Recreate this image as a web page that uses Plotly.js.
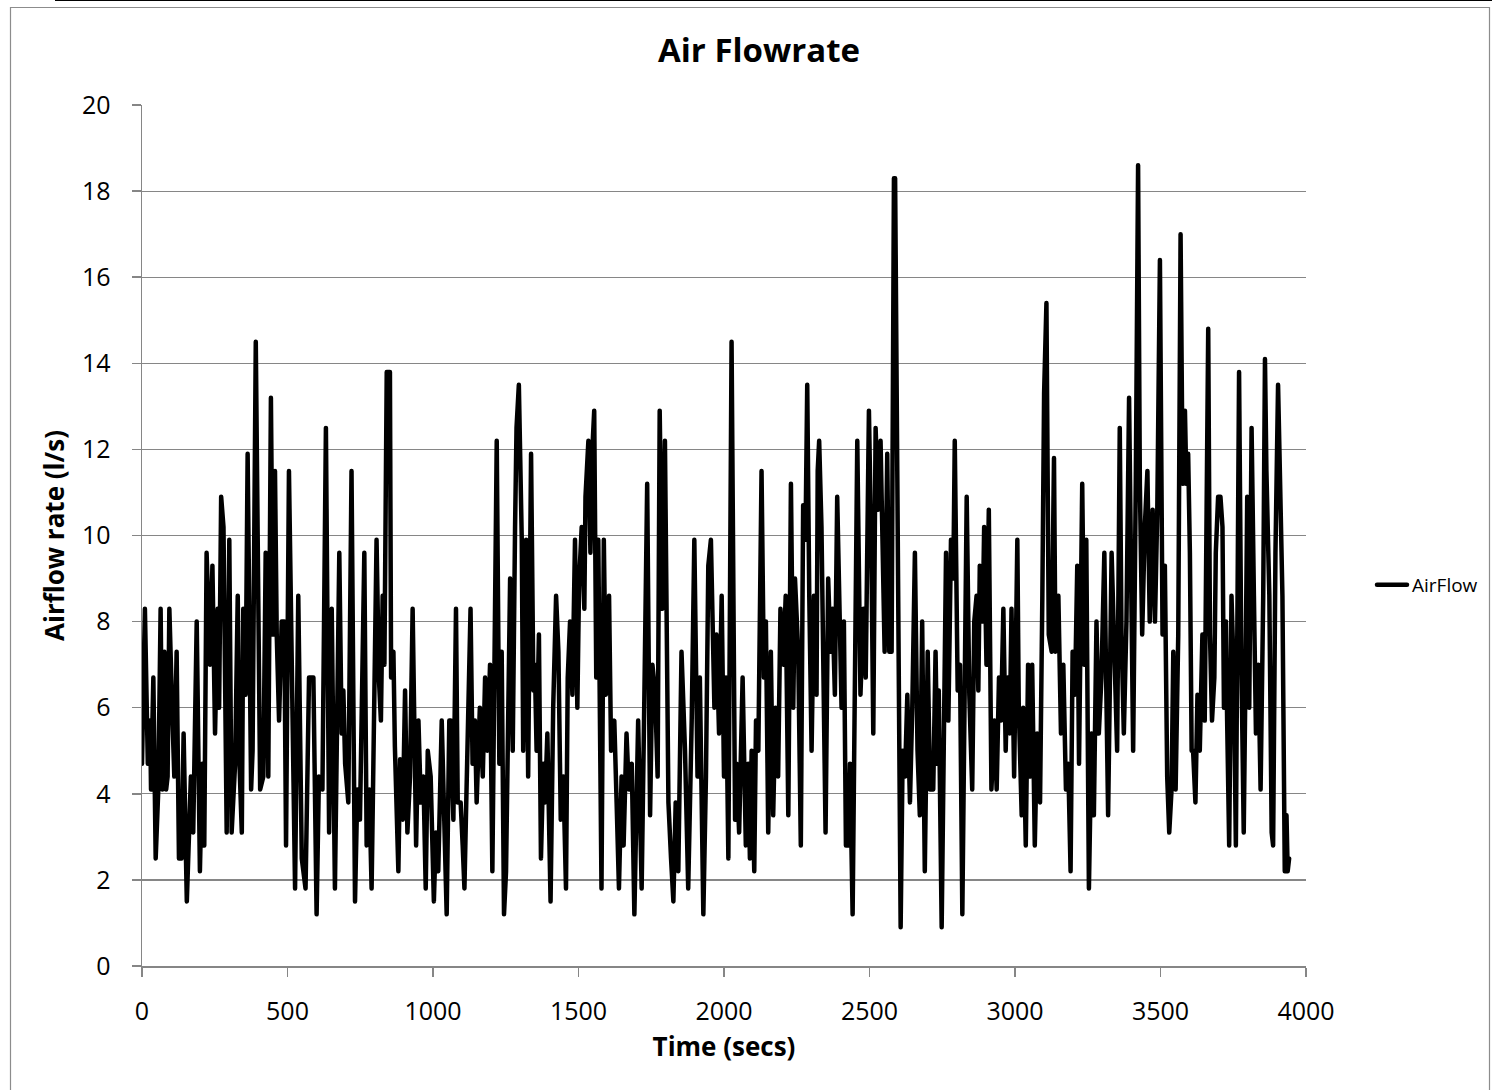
<!DOCTYPE html>
<html>
<head>
<meta charset="utf-8">
<script src="https://cdn.plot.ly/plotly-3.0.1.min.js"></script>
<style>
  html, body { margin: 0; padding: 0; background: #fff; }
  #chart { width: 1492px; height: 1090px; }
  .js-line { stroke-linejoin: round; stroke-linecap: round; }
</style>
</head>
<body>
<div id="chart"></div>
<script>
const chartTitle = "Air Flowrate";
const xTitle = "Time (secs)";
const yTitle = "Airflow rate (l/s)";
const seriesName = "AirFlow";

const timeSecs = [
  0,10,20,28,31,39,47,56,64,70,77,83,88,94,104,111,119,127,136,143,154,162,168,176,188,199,207,214,222,234,242,251,260,265,272,280,291,300,308,320,329,335,343,348,356,363,375,380,391,406,417,425,434,443,450,457,463,471,480,489,495,505,514,526,537,549,562,574,589,600,608,620,632,643,652,
  663,678,686,692,698,709,720,732,740,749,755,764,772,781,789,797,806,814,821,827,833,841,852,856,864,869,881,887,896,904,912,921,930,942,950,958,967,975,982,992,1003,1010,1018,1030,1038,1047,1056,1061,1070,1079,1085,1095,1102,1108,1113,1129,1136,1144,1150,1161,1171,1179,1187,1196,1204,1210,1219,1228,1236,1244,1251,1265,1274,1282,1287,1295,1305,1310,1320,1327,1337,
  1345,1350,1356,1364,1371,1379,1385,1393,1404,1413,1423,1431,1439,1448,1457,1463,1471,1479,1488,1496,1502,1511,1520,1524,1534,1541,1549,1554,1561,1568,1579,1587,1594,1605,1612,1623,1631,1639,1648,1655,1665,1673,1683,1692,1705,1717,1726,1736,1746,1754,1763,1772,1779,1788,1797,1809,1818,1826,1834,1843,1854,1866,1877,1889,1898,1909,1917,1929,1938,1946,1955,1967,1974,1983,1992,
  2000,2007,2015,2026,2038,2043,2052,2064,2075,2083,2089,2095,2104,2110,2118,2129,2137,2144,2152,2161,2169,2177,2186,2194,2204,2212,2221,2230,2238,2244,2255,2264,2272,2280,2286,2293,2301,2309,2318,2322,2327,2335,2341,2349,2358,2366,2373,2381,2389,2398,2404,2412,2419,2427,2433,2442,2450,2458,2469,2479,2487,2498,2507,2513,2521,2530,2538,2545,2552,2561,2568,2576,2584,2588,2607,2614,2622,2630,2639,2647,2656,
  2665,2673,2681,2690,2700,2708,2713,2719,2727,2733,2738,2748,2763,2771,2776,2780,2788,2793,2803,2811,2819,2828,2834,2843,2853,2860,2868,2874,2879,2889,2894,2902,2910,2919,2929,2937,2945,2952,2960,2968,2974,2982,2988,2997,3008,3013,3023,3028,3037,3045,3053,3059,3068,3076,3086,3094,3100,3108,3116,3126,3134,3139,3149,3158,3166,3175,3183,3191,3198,3206,3214,3220,3231,3238,3245,3254,3263,3271,3280,3288,3297,3307,3315,3320,3332,3341,
  3351,3360,3366,3374,3383,3392,3400,3406,3415,3423,3429,3437,3446,3455,3463,3473,3481,3489,3498,3507,3515,3523,3530,3538,3544,3552,3561,3569,3576,3584,3589,3595,3601,3607,3612,3620,3627,3635,3644,3652,3664,3670,3677,3685,3690,3698,3706,3713,3718,3725,3729,3736,3744,3752,3759,3765,3770,3778,3786,3793,3798,3805,3813,3821,3828,3836,3844,3853,3859,3864,3874,3882,3887,3895,3904,3912,3919,3927,3933,3937,3942
];

const airflow = [
  4.7,8.3,4.7,5.7,4.1,6.7,2.5,4.1,8.3,4.1,7.3,4.1,4.4,8.3,5.9,4.4,7.3,2.5,2.5,5.4,1.5,3.5,4.4,3.1,8.0,2.2,4.7,2.8,9.6,7.0,9.3,5.4,8.3,6.0,10.9,10.2,3.1,9.9,3.1,4.7,8.6,4.7,3.1,8.3,6.3,11.9,4.1,5.0,14.5,4.1,4.4,9.6,4.4,13.2,7.7,11.5,7.7,5.7,8.0,8.0,2.8,11.5,7.0,1.8,8.6,2.5,1.8,6.7,6.7,1.2,4.4,4.1,12.5,3.1,8.3,
  1.8,9.6,5.4,6.4,4.7,3.8,11.5,1.5,4.1,3.4,6.0,9.6,2.8,4.1,1.8,6.7,9.9,6.7,5.7,8.6,7.0,13.8,13.8,6.7,7.3,5.1,2.2,4.8,3.4,6.4,3.1,4.4,8.3,2.8,5.7,3.8,4.4,1.8,5.0,4.4,1.5,3.1,2.2,5.7,3.4,1.2,5.7,5.7,3.4,8.3,3.8,3.8,2.8,1.8,3.4,8.3,4.7,5.7,3.8,6.0,4.4,6.7,5.0,7.0,2.2,7.3,12.2,4.7,7.3,1.2,2.2,9.0,5.0,10.2,12.5,13.5,9.9,5.0,9.9,4.4,11.9,
  6.4,7.0,5.0,7.7,2.5,4.7,3.8,5.4,1.5,6.0,8.6,7.3,3.4,4.4,1.8,6.7,8.0,6.3,9.9,6.0,8.9,10.2,8.3,10.9,12.2,9.6,12.2,12.9,6.7,9.9,1.8,9.9,6.3,8.6,5.0,5.7,3.8,1.8,4.4,2.8,5.4,4.1,4.7,1.2,5.7,1.8,6.1,11.2,3.5,7.0,6.4,4.4,12.9,8.3,12.2,3.8,2.5,1.5,3.8,2.2,7.3,5.0,1.8,5.7,9.9,4.4,6.7,1.2,4.4,9.3,9.9,6.0,7.7,5.4,8.6,
  4.4,6.7,2.5,14.5,3.4,4.7,3.1,6.7,2.8,4.7,2.5,5.0,2.2,5.7,5.0,11.5,6.7,8.0,3.1,7.3,3.5,6.0,4.4,8.3,7.0,8.6,3.5,11.2,6.0,9.0,7.3,2.8,10.7,9.9,13.5,8.6,5.0,8.6,6.3,11.5,12.2,10.2,7.7,3.1,9.0,7.3,8.3,6.3,10.9,7.3,6.0,8.0,2.8,2.8,4.7,1.2,7.7,12.2,6.3,8.3,6.7,12.9,9.3,5.4,12.5,10.6,12.2,9.9,7.3,11.9,7.3,7.3,18.3,18.3,0.9,5.0,4.4,6.3,3.8,6.0,9.6,
  5.0,3.5,8.0,2.2,7.3,4.1,4.7,4.1,7.3,4.7,6.4,0.9,9.6,5.7,8.0,9.9,9.0,12.2,6.4,7.0,1.2,7.0,10.9,6.3,4.1,8.0,8.6,6.4,9.3,8.0,10.2,7.0,10.6,4.1,5.7,4.1,6.7,5.7,8.3,5.0,6.7,5.4,8.3,4.4,9.9,6.0,3.5,6.0,2.8,7.0,4.4,7.0,2.8,5.4,3.8,8.6,13.3,15.4,7.7,7.3,11.8,7.3,8.6,5.4,7.0,4.1,4.7,2.2,7.3,6.3,9.3,4.7,11.2,7.0,9.9,1.8,5.4,3.5,8.0,5.4,6.7,9.6,5.9,3.5,9.6,7.3,
  5.0,12.5,7.7,5.4,8.0,13.2,7.7,5.0,11.2,18.6,11.2,7.7,10.2,11.5,8.0,10.6,8.0,10.6,16.4,7.7,9.3,4.4,3.1,4.1,7.3,4.1,7.7,17.0,11.2,12.9,11.2,11.9,9.6,5.0,5.0,3.8,6.3,5.0,7.7,5.7,14.8,7.7,5.7,6.7,9.6,10.9,10.9,10.2,6.0,8.0,5.7,2.8,8.6,6.7,2.8,7.3,13.8,7.0,3.1,7.3,10.9,6.0,12.5,8.6,5.4,7.0,4.1,8.6,14.1,11.5,8.6,3.1,2.8,9.6,13.5,10.9,8.6,2.2,3.5,2.2,2.5
];

const xTickVals = [0, 500, 1000, 1500, 2000, 2500, 3000, 3500, 4000];
const yTickVals = [0, 2, 4, 6, 8, 10, 12, 14, 16, 18, 20];

const FONT = '"Open Sans", "Liberation Sans", sans-serif';
const AXIS_GRAY = '#868686';

const trace = {
  x: timeSecs,
  y: airflow,
  type: 'scatter',
  mode: 'lines',
  name: seriesName,
  line: { color: '#000000', width: 4.5 },
  showlegend: true
};

const W = 1492, H = 1090;
const L = 142, R = 186, T = 105, B = 124;
const pw = W - L - R, ph = H - T - B;
function px2paperX(px) { return (px - L) / pw; }
function px2paperY(py) { return (H - B - py) / ph; }

const layout = {
  width: W,
  height: H,
  margin: { l: L, r: R, t: T, b: B, pad: 0, autoexpand: false },
  paper_bgcolor: '#ffffff',
  plot_bgcolor: '#ffffff',
  font: { family: FONT, color: '#000000', size: 25 },
  title: {
    text: '<b>' + chartTitle + '</b>',
    font: { family: FONT, size: 33, color: '#000000' },
    x: 759 / W, xref: 'container', xanchor: 'center',
    y: 1 - 50 / H, yref: 'container', yanchor: 'middle'
  },
  xaxis: {
    range: [0, 4000],
    tickvals: xTickVals,
    ticktext: xTickVals.map(String),
    showgrid: false,
    zeroline: false,
    showline: true,
    linecolor: AXIS_GRAY,
    linewidth: 1.5,
    ticks: 'outside',
    ticklen: 9,
    tickwidth: 1.5,
    tickcolor: AXIS_GRAY,
    ticklabelstandoff: 13,
    automargin: false,
    tickfont: { family: FONT, size: 25, color: '#000000' },
    title: { text: '<b>' + xTitle + '</b>', font: { family: FONT, size: 26, color: '#000000' }, standoff: 12 }
  },
  yaxis: {
    range: [0, 20],
    tickvals: yTickVals,
    ticktext: yTickVals.map(String),
    showgrid: true,
    gridcolor: AXIS_GRAY,
    gridwidth: 1.2,
    zeroline: false,
    showline: true,
    linecolor: AXIS_GRAY,
    linewidth: 1.5,
    ticks: 'outside',
    ticklen: 9,
    tickwidth: 1.5,
    tickcolor: AXIS_GRAY,
    ticklabelstandoff: 16,
    automargin: false,
    tickfont: { family: FONT, size: 25, color: '#000000' },
    title: { text: '<b>' + yTitle + '</b>', font: { family: FONT, size: 26, color: '#000000' }, standoff: 10 }
  },
  legend: {
    x: px2paperX(1372), xanchor: 'left',
    y: px2paperY(585), yanchor: 'middle',
    bgcolor: 'rgba(0,0,0,0)',
    borderwidth: 0,
    font: { family: FONT, size: 19, color: '#000000' },
    itemwidth: 30
  },
  shapes: [
    { type: 'rect', xref: 'paper', yref: 'paper',
      x0: px2paperX(10.5), x1: px2paperX(1489.5), y0: px2paperY(1100), y1: px2paperY(7.5),
      line: { color: '#8c8c8c', width: 1.2 }, fillcolor: 'rgba(0,0,0,0)', layer: 'below' },
    { type: 'line', xref: 'paper', yref: 'paper',
      x0: px2paperX(55), x1: px2paperX(1492), y0: px2paperY(0.5), y1: px2paperY(0.5),
      line: { color: '#000000', width: 1.2 } }
  ]
};

Plotly.newPlot('chart', [trace], layout, { displayModeBar: false, staticPlot: true });
</script>
</body>
</html>
